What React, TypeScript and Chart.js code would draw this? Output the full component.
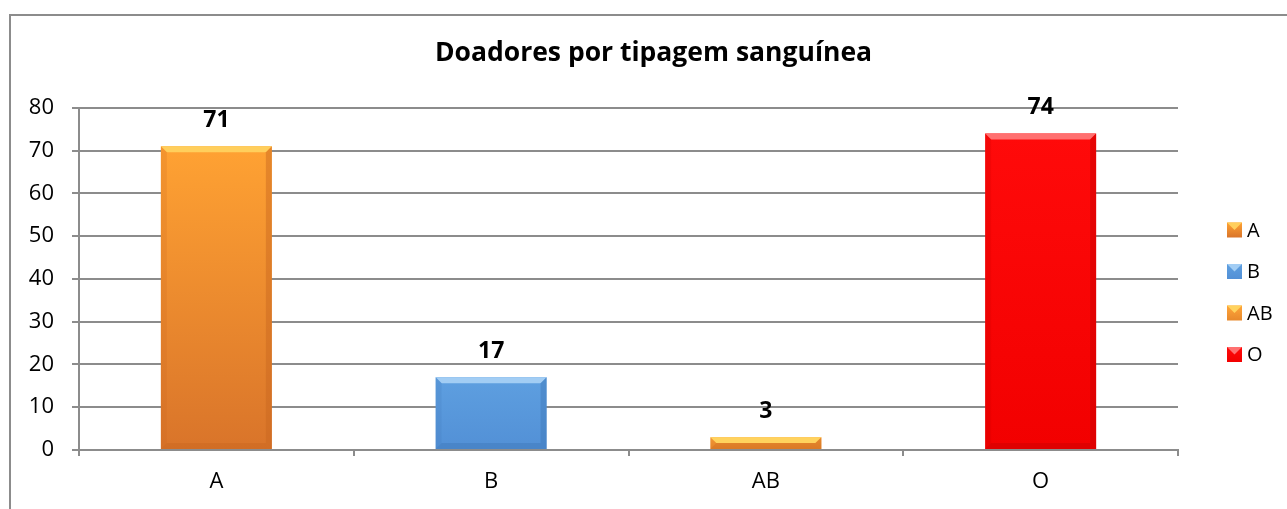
import React, { useEffect, useRef } from 'react';
import { Chart, registerables } from 'chart.js';

Chart.register(...registerables);

const chartTitle = 'Doadores por tipagem sanguínea';
const categories = ['A', 'B', 'AB', 'O'];
const donors = [71, 17, 3, 74];
const yMin = 0;
const yMax = 80;
const yStep = 10;

const topColors = ['#FFA233', '#5E9FE0', '#FFA63A', '#FF0A0A'];
const bottomColors = ['#D9742A', '#5290D6', '#E8892C', '#F20000'];
const bevelColors = ['#FFCF5C', '#A2CDF4', '#FFD35E', '#FF7070'];
const edgeColors = ['#C8661F', '#3F78B8', '#C8661F', '#C80000'];

const FONT = '"Open Sans", "Noto Sans", sans-serif';

const bevelPlugin = {
  id: 'bevel',
  afterDatasetsDraw(chart: any) {
    const ctx = chart.ctx;
    const meta = chart.getDatasetMeta(0);
    meta.data.forEach((bar: any, i: number) => {
      const { x, y, base, width } = bar.getProps(['x', 'y', 'base', 'width'], true);
      const left = x - width / 2;
      const right = x + width / 2;
      const h = base - y;
      const b = Math.min(6, h / 2);
      ctx.save();
      ctx.fillStyle = bevelColors[i];
      ctx.beginPath();
      ctx.moveTo(left, y);
      ctx.lineTo(right, y);
      ctx.lineTo(right - b, y + b);
      ctx.lineTo(left + b, y + b);
      ctx.closePath();
      ctx.fill();
      ctx.globalAlpha = 0.45;
      ctx.fillStyle = edgeColors[i];
      ctx.beginPath();
      ctx.moveTo(right, y);
      ctx.lineTo(right, base);
      ctx.lineTo(right - b, base - b);
      ctx.lineTo(right - b, y + b);
      ctx.closePath();
      ctx.fill();
      ctx.beginPath();
      ctx.moveTo(left, base);
      ctx.lineTo(right, base);
      ctx.lineTo(right - b, base - b);
      ctx.lineTo(left + b, base - b);
      ctx.closePath();
      ctx.fill();
      ctx.globalAlpha = 0.2;
      ctx.beginPath();
      ctx.moveTo(left, y);
      ctx.lineTo(left + b, y + b);
      ctx.lineTo(left + b, base - b);
      ctx.lineTo(left, base);
      ctx.closePath();
      ctx.fill();
      ctx.restore();
    });
  },
};

const valueLabelPlugin = {
  id: 'valueLabels',
  afterDatasetsDraw(chart: any) {
    const ctx = chart.ctx;
    const meta = chart.getDatasetMeta(0);
    ctx.save();
    ctx.font = `bold 23px ${FONT}`;
    ctx.fillStyle = '#000';
    ctx.textAlign = 'center';
    ctx.textBaseline = 'middle';
    meta.data.forEach((bar: any, i: number) => {
      ctx.fillText(String(donors[i]), bar.x, bar.y - 26);
    });
    ctx.restore();
  },
};

const sideLegendPlugin = {
  id: 'sideLegend',
  afterDraw(chart: any) {
    const ctx = chart.ctx;
    const x0 = chart.chartArea.right + 49;
    const y0 = 230;
    const gap = 41.5;
    ctx.save();
    ctx.font = `20px ${FONT}`;
    ctx.textBaseline = 'middle';
    ctx.textAlign = 'left';
    categories.forEach((cat, i) => {
      const cy = y0 + i * gap;
      const s = 15;
      const g = ctx.createLinearGradient(0, cy - s / 2, 0, cy + s / 2);
      g.addColorStop(0, topColors[i]);
      g.addColorStop(1, bottomColors[i]);
      ctx.fillStyle = g;
      ctx.fillRect(x0, cy - s / 2, s, s);
      ctx.fillStyle = bevelColors[i];
      ctx.beginPath();
      ctx.moveTo(x0, cy - s / 2);
      ctx.lineTo(x0 + s, cy - s / 2);
      ctx.lineTo(x0 + s / 2, cy);
      ctx.closePath();
      ctx.fill();
      ctx.fillStyle = '#000';
      ctx.fillText(cat, x0 + s + 5, cy + 1);
    });
    ctx.restore();
  },
};

export default function App() {
  const canvasRef = useRef<HTMLCanvasElement | null>(null);

  useEffect(() => {
    if (!canvasRef.current) return;
    const chart = new Chart(canvasRef.current, {
      type: 'bar',
      data: {
        labels: categories,
        datasets: [
          {
            label: 'Doadores',
            data: donors,
            backgroundColor: (c: any) => {
              const ch = c.chart;
              const i = c.dataIndex;
              const ys = ch.scales && ch.scales.y;
              if (!ys || i === undefined) return topColors[i || 0];
              const top = ys.getPixelForValue(donors[i]);
              const bottom = ys.getPixelForValue(0);
              if (!isFinite(top) || !isFinite(bottom) || top === bottom) return topColors[i];
              const g = ch.ctx.createLinearGradient(0, top, 0, bottom);
              g.addColorStop(0, topColors[i]);
              g.addColorStop(1, bottomColors[i]);
              return g;
            },
            borderWidth: 0,
            barPercentage: 0.404,
            categoryPercentage: 1,
          },
        ],
      },
      options: {
        animation: false,
        responsive: true,
        maintainAspectRatio: false,
        layout: { padding: { left: 20, right: 0, top: 0, bottom: 0 } },
        plugins: {
          legend: { display: false },
          tooltip: { enabled: false },
          title: {
            display: true,
            text: chartTitle,
            color: '#000',
            font: { family: FONT, size: 26.5, weight: 'bold', lineHeight: 1.2 },
            padding: { top: 38, bottom: 38 },
          },
        },
        scales: {
          x: {
            afterFit: (s: any) => {
              s.height = 59;
            },
            grid: {
              offset: true,
              drawOnChartArea: false,
              drawTicks: true,
              tickLength: 6,
              color: '#8c8c8c',
              lineWidth: 2,
            },
            border: { color: '#8c8c8c', width: 2 },
            ticks: {
              color: '#000',
              font: { family: FONT, size: 22 },
              padding: 13,
            },
          },
          y: {
            min: yMin,
            max: yMax,
            afterFit: (s: any) => {
              s.width = 59;
            },
            grid: {
              color: '#8c8c8c',
              lineWidth: 2,
              tickLength: 7,
            },
            border: { color: '#8c8c8c', width: 2 },
            ticks: {
              stepSize: yStep,
              color: '#000',
              font: { family: FONT, size: 22 },
              padding: 18,
            },
          },
          legendSpace: {
            type: 'linear',
            position: 'right',
            display: true,
            afterFit: (s: any) => {
              s.width = 109;
            },
            grid: { display: false, drawTicks: false },
            border: { display: false },
            ticks: { display: false },
          },
        },
      },
      plugins: [bevelPlugin, valueLabelPlugin, sideLegendPlugin],
    });
    return () => chart.destroy();
  }, []);

  return (
    <div style={{ position: 'absolute', left: 0, top: 0, width: 1287, height: 509, overflow: 'hidden', background: '#fff' }}>
      <div
        style={{
          position: 'absolute',
          left: 9,
          top: 14,
          width: 1300,
          height: 520,
          border: '2px solid #8c8c8c',
        }}
      />
      <div style={{ position: 'absolute', left: 0, top: 0, width: 1287, height: 509 }}>
        <canvas ref={canvasRef} />
      </div>
    </div>
  );
}
